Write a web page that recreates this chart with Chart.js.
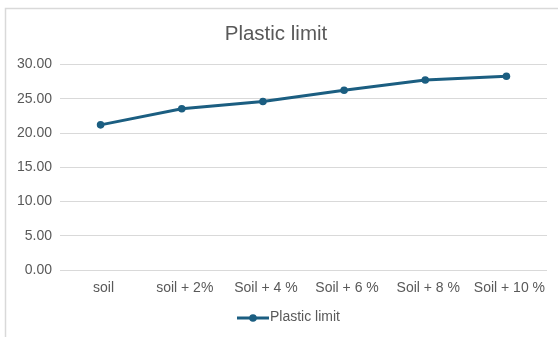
<!DOCTYPE html>
<html>
<head>
<meta charset="utf-8">
<script src="https://cdn.jsdelivr.net/npm/chart.js@4"></script>
<style>
  html, body { margin: 0; padding: 0; background: #ffffff; }
  #wrap { width: 558px; height: 337px; position: relative; }
</style>
</head>
<body>
<div id="wrap"><canvas id="c" width="558" height="337"></canvas></div>
<script>
// Plastic limit for the base soil and each additive percentage
const categories = ['soil', 'soil + 2%', 'Soil + 4 %', 'Soil + 6 %', 'Soil + 8 %', 'Soil + 10 %'];
const plasticLimit = [21.2, 23.55, 24.6, 26.25, 27.75, 28.3];
const seriesName = 'Plastic limit';
const yTickValues = [0, 5, 10, 15, 20, 25, 30];

const lineColor = '#1b5e81';
const textColor = '#595959';
const gridColor = '#d9d9d9';
const fontFamily = '"Liberation Sans", Arial, sans-serif';

// Thin frame along the top and left edges of the chart
const framePlugin = {
  id: 'frame',
  beforeDraw(chart) {
    const ctx = chart.ctx;
    ctx.save();
    ctx.fillStyle = '#ffffff';
    ctx.fillRect(0, 0, chart.width, chart.height);
    ctx.strokeStyle = gridColor;
    ctx.lineWidth = 1.5;
    ctx.beginPath();
    ctx.moveTo(5.5, chart.height);
    ctx.lineTo(5.5, 8.5);
    ctx.lineTo(chart.width, 8.5);
    ctx.stroke();
    ctx.restore();
  }
};

// Legend entry: line with a marker, followed by the series name
const legendPlugin = {
  id: 'lineLegend',
  afterDraw(chart) {
    const ctx = chart.ctx;
    const ds = chart.data.datasets[0];
    ctx.save();
    ctx.font = '14px ' + fontFamily;
    const label = ds.label;
    const tw = ctx.measureText(label).width;
    const lineLen = 32;
    const total = lineLen + 1 + tw;
    const cx = (chart.chartArea.left + chart.chartArea.right) / 2 - 15;
    const x0 = cx - total / 2;
    const y = 318;
    ctx.strokeStyle = ds.borderColor;
    ctx.lineWidth = 3;
    ctx.beginPath();
    ctx.moveTo(x0, y);
    ctx.lineTo(x0 + lineLen, y);
    ctx.stroke();
    ctx.fillStyle = ds.pointBackgroundColor;
    ctx.beginPath();
    ctx.arc(x0 + lineLen / 2, y, 3.8, 0, Math.PI * 2);
    ctx.fill();
    ctx.fillStyle = textColor;
    ctx.textBaseline = 'middle';
    ctx.textAlign = 'left';
    ctx.fillText(label, x0 + lineLen + 1, y - 1);
    ctx.restore();
  }
};

new Chart(document.getElementById('c'), {
  type: 'line',
  data: {
    labels: categories,
    datasets: [{
      label: seriesName,
      data: plasticLimit,
      borderColor: lineColor,
      backgroundColor: lineColor,
      pointBackgroundColor: lineColor,
      pointBorderColor: lineColor,
      borderWidth: 3,
      pointRadius: 3.8,
      pointBorderWidth: 0,
      tension: 0,
      fill: false
    }]
  },
  options: {
    responsive: false,
    animation: false,
    layout: { padding: { left: 5, right: 11, top: 8, bottom: 0 } },
    plugins: {
      legend: { display: false },
      tooltip: { enabled: false },
      title: {
        display: true,
        text: 'Plastic limit',
        color: textColor,
        font: { family: fontFamily, size: 20.5, weight: 'normal' },
        padding: { top: 14, bottom: 18 }
      }
    },
    scales: {
      x: {
        offset: true,
        grid: { display: false, drawTicks: false },
        border: { display: false },
        ticks: {
          color: textColor,
          font: { family: fontFamily, size: 14 },
          padding: 10,
          labelOffset: 3,
          maxRotation: 0,
          autoSkip: false
        },
        afterFit(scale) { scale.height = 67; }
      },
      y: {
        min: yTickValues[0],
        max: yTickValues[yTickValues.length - 1],
        afterBuildTicks(scale) {
          scale.ticks = yTickValues.map(v => ({ value: v }));
        },
        grid: { color: gridColor, lineWidth: 1, drawTicks: false },
        border: { display: false },
        ticks: {
          color: textColor,
          font: { family: fontFamily, size: 14 },
          padding: 8,
          callback: v => Number(v).toFixed(2)
        },
        afterFit(scale) { scale.width = 55; }
      }
    }
  },
  plugins: [framePlugin, legendPlugin]
});
</script>
</body>
</html>
